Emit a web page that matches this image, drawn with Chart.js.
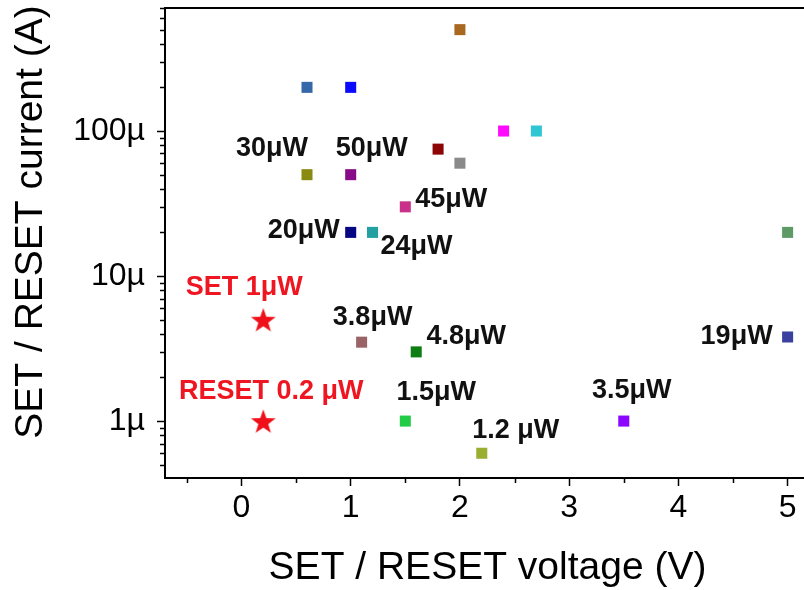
<!DOCTYPE html>
<html>
<head>
<meta charset="utf-8">
<title>SET / RESET operating points</title>
<script src="https://cdn.jsdelivr.net/npm/chart.js@4.4.1/dist/chart.umd.min.js"></script>
<style>
  html, body { margin: 0; padding: 0; background: #fff; }
  #box { width: 804px; height: 590px; }
</style>
</head>
<body>
<div id="box"><canvas id="ivChart" width="804" height="590"></canvas></div>
<script>
// device operating points: voltage (V) and current (A)
const deviceVoltage = [2.0, 0.6, 1.0, 2.4, 2.7, 1.8, 2.0, 0.6, 1.0, 1.5, 1.0, 1.2, 5.0, 1.1, 1.6, 1.5, 2.2, 3.5, 5.0];
const deviceCurrent = [500e-6, 200e-6, 200e-6, 100e-6, 100e-6, 75e-6, 60e-6, 50e-6, 50e-6, 30e-6, 20e-6, 20e-6, 20e-6,
                       3.5e-6, 3e-6, 1e-6, 0.6e-6, 1e-6, 3.8e-6];
const devicePower = ['', '', '', '', '', '', '', '30μW', '50μW', '45μW', '20μW', '24μW', '',
                     '3.8μW', '4.8μW', '1.5μW', '1.2 μW', '3.5μW', '19μW'];
const deviceColors = ['#a8681f', '#3568a8', '#0a0aff', '#ff0aff', '#2ec6d2', '#8c0606', '#8a8a8a', '#8a8a12', '#880a88',
                      '#c8308a', '#060682', '#22a0a2', '#5e9a64', '#9a6466', '#0e7e14', '#22cc46', '#9aae30', '#8a06ff', '#3a40a0'];

// this work
const ourVoltage = [0.2, 0.2];
const ourCurrent = [5e-6, 1e-6];
const ourPower = ['SET 1μW', 'RESET 0.2 μW'];

// axis ticks
const xMajorTicks = [0, 1, 2, 3, 4, 5];
const xMinorTicks = [-0.5, 0.5, 1.5, 2.5, 3.5, 4.5];
const yMajorTicks = [1e-6, 1e-5, 1e-4];
const yTickLabels = ['1µ', '10µ', '100µ'];

// where each power label sits relative to its marker (px)
const deviceLabelShift = [null, null, null, null, null, null, null, [-35, -26], [21, -26], [46, -7], [-47, -2], [44, 14], null,
                          [11, -25], [50, -15], [31, -29], [34, -23], [8, -31], [-51, 0]];
const ourLabelShift = [[-19, -32], [8, -30]];

const FONT = "'Liberation Sans', Arial, Helvetica, sans-serif";

const yMinorTicks = [];
for (let e = -7; e <= -4; e++) {
  for (let m = 2; m <= 9; m++) {
    const v = m * Math.pow(10, e);
    if (v > 4.05e-7 && v < 7.05e-4) yMinorTicks.push(v);
  }
}

// filled five-point star used as the marker for this work
function makeStar(r, color) {
  const c = document.createElement('canvas');
  const s = Math.ceil(r * 2 + 2);
  c.width = s; c.height = s;
  const g = c.getContext('2d');
  g.translate(s / 2, s / 2 + r * 0.1);
  g.beginPath();
  for (let i = 0; i < 10; i++) {
    const rr = i % 2 === 0 ? r : r * 0.4;
    const a = -Math.PI / 2 + i * Math.PI / 5;
    g.lineTo(rr * Math.cos(a), rr * Math.sin(a));
  }
  g.closePath();
  g.fillStyle = color;
  g.fill();
  return c;
}
const starImg = makeStar(13, '#f0101a');

function sameValue(a, b) { return Math.abs(a / b - 1) < 1e-6; }

const pointLabels = {
  id: 'pointLabels',
  afterDatasetsDraw(chart) {
    const ctx = chart.ctx;
    ctx.save();
    ctx.font = 'bold 27px ' + FONT;
    ctx.textAlign = 'center';
    ctx.textBaseline = 'middle';
    chart.data.datasets.forEach((ds, di) => {
      const meta = chart.getDatasetMeta(di);
      meta.data.forEach((pt, i) => {
        const text = ds.powerText[i];
        const shift = ds.labelShift[i];
        if (!text || !shift) return;
        ctx.fillStyle = ds.labelColor;
        ctx.fillText(text, pt.x + shift[0], pt.y + shift[1]);
      });
    });
    ctx.restore();
  }
};

const frameAndTitles = {
  id: 'frameAndTitles',
  afterDraw(chart) {
    const ctx = chart.ctx;
    const a = chart.chartArea;
    const xs = chart.scales.x, ys = chart.scales.y;
    ctx.save();
    ctx.strokeStyle = '#000';
    // top frame line
    ctx.lineWidth = 2;
    ctx.beginPath();
    ctx.moveTo(a.left - 1, a.top);
    ctx.lineTo(a.right, a.top);
    ctx.stroke();
    // minor tick marks
    ctx.lineWidth = 1.5;
    ctx.beginPath();
    xMinorTicks.forEach(v => {
      const px = Math.round(xs.getPixelForValue(v)) + 0.5;
      ctx.moveTo(px, a.bottom);
      ctx.lineTo(px, a.bottom + 5);
    });
    yMinorTicks.forEach(v => {
      const py = Math.round(ys.getPixelForValue(v)) + 0.5;
      ctx.moveTo(a.left, py);
      ctx.lineTo(a.left - 5, py);
    });
    ctx.stroke();
    // axis titles
    ctx.fillStyle = '#000';
    ctx.font = '39px ' + FONT;
    ctx.textAlign = 'center';
    ctx.textBaseline = 'middle';
    ctx.fillText('SET / RESET voltage (V)', (a.left + a.right) / 2 + 3, 568);
    ctx.translate(31, a.top + 214);
    ctx.rotate(-Math.PI / 2);
    ctx.fillText('SET / RESET current (A)', 0, 0);
    ctx.restore();
  }
};

const chart = new Chart(document.getElementById('ivChart'), {
  type: 'scatter',
  data: {
    datasets: [{
      label: 'reported devices',
      data: deviceVoltage.map((v, i) => ({ x: v, y: deviceCurrent[i] })),
      pointStyle: 'rect',
      pointRadius: 7.8,
      pointHoverRadius: 7.8,
      pointBorderWidth: 0,
      pointBackgroundColor: deviceColors,
      powerText: devicePower,
      labelShift: deviceLabelShift,
      labelColor: '#111'
    }, {
      label: 'this work',
      data: ourVoltage.map((v, i) => ({ x: v, y: ourCurrent[i] })),
      pointStyle: starImg,
      pointRadius: 13,
      powerText: ourPower,
      labelShift: ourLabelShift,
      labelColor: '#ee1620'
    }]
  },
  options: {
    responsive: false,
    animation: false,
    layout: { autoPadding: false, padding: { top: 8, right: 0, left: 0, bottom: 0 } },
    plugins: {
      legend: { display: false },
      tooltip: { enabled: false }
    },
    scales: {
      x: {
        type: 'linear',
        min: -0.7,
        max: 5.15,
        afterBuildTicks: s => { s.ticks = xMajorTicks.map(v => ({ value: v, major: true })); },
        afterFit: s => { s.height = 112; s.paddingLeft = 0; s.paddingRight = 0; },
        ticks: {
          autoSkip: false,
          maxRotation: 0,
          padding: 3,
          color: '#000',
          font: { family: FONT, size: 32 },
          callback: v => String(v)
        },
        grid: { drawOnChartArea: false, tickLength: 8, tickWidth: 1.5, tickColor: '#000' },
        border: { color: '#000', width: 2 }
      },
      y: {
        type: 'logarithmic',
        min: 4.05e-7,
        max: 7.05e-4,
        afterBuildTicks: s => { s.ticks = yMajorTicks.map(v => ({ value: v, major: true })); },
        afterFit: s => { s.width = 165; s.paddingTop = 0; s.paddingBottom = 0; },
        ticks: {
          autoSkip: false,
          padding: 12,
          color: '#000',
          font: { family: FONT, size: 32 },
          callback: v => {
            const j = yMajorTicks.findIndex(t => sameValue(t, v));
            return j >= 0 ? yTickLabels[j] : '';
          }
        },
        grid: { drawOnChartArea: false, tickLength: 8, tickWidth: 1.5, tickColor: '#000' },
        border: { color: '#000', width: 2 }
      }
    }
  },
  plugins: [pointLabels, frameAndTitles]
});
</script>
</body>
</html>
